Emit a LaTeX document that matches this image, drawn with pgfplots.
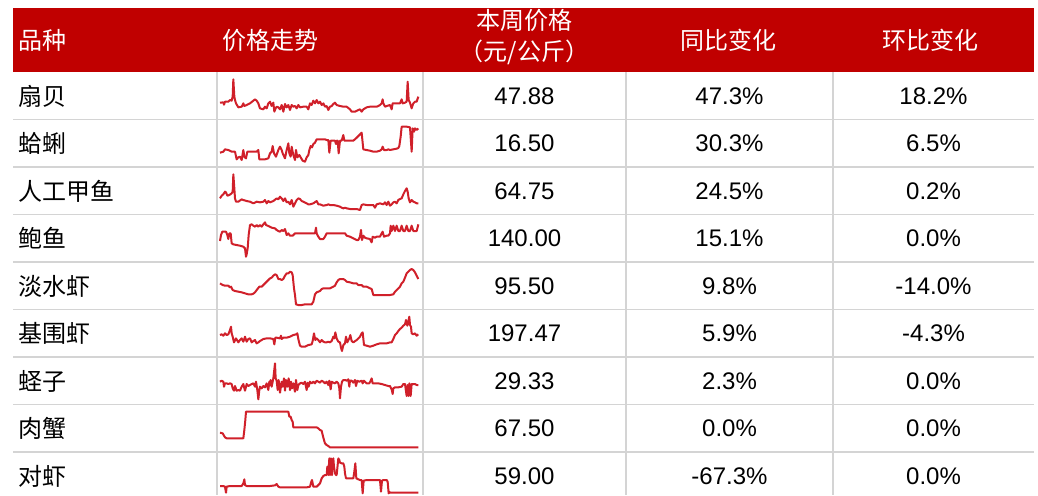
\documentclass[border=0pt]{standalone}
\usepackage{fontspec}
\setmainfont{Liberation Sans}
\newfontfamily\cjk{Noto Sans CJK SC}
\usepackage{pgfplots}
\pgfplotsset{compat=1.18}
\definecolor{hdr}{HTML}{C00000}
\definecolor{grid}{HTML}{D4D4D4}
\definecolor{spark}{HTML}{D0202A}
\pgfplotsset{sparkaxis/.style={scale only axis,hide axis,clip=false,anchor=north west,
  width=110pt,height=50pt,xmin=0,xmax=660,ymin=0,ymax=300,y dir=reverse},
  sp/.style={spark,line width=1pt,line join=round,mark=none}}
\begin{document}
\begin{tikzpicture}
\begin{scope}[x=0.5pt,y=0.5pt]
\path[use as bounding box] (0,0) rectangle (1038,-495);
% header
\fill[hdr] (13,-8) rectangle (1034,-72);
\begin{scope}[font=\cjk\fontsize{12}{14}\selectfont,text=white]
\node[anchor=west] at (11,-40) {品种};
\node[anchor=west] at (215,-40) {价格走势};
\node at (524.5,-20) {本周价格};
\node at (524.5,-52) {（元/公斤）};
\node at (728,-40) {同比变化};
\node at (930,-40) {环比变化};
\end{scope}
% grid
\foreach \y in {119.5,167,214.5,262,309.5,357,404.5,452}
  \draw[grid,line width=0.8pt] (13,-\y) -- (1034,-\y);
\foreach \x in {217,423,626,833}
  \draw[grid,line width=0.8pt] (\x,-72) -- (\x,-495);
% rows
\foreach \n/\p/\a/\b [count=\i from 0] in {扇贝/47.88/47.3\%/18.2\%,蛤蜊/16.50/30.3\%/6.5\%,人工甲鱼/64.75/24.5\%/0.2\%,
  鲍鱼/140.00/15.1\%/0.0\%,淡水虾/95.50/9.8\%/-14.0\%,基围虾/197.47/5.9\%/-4.3\%,
  蛏子/29.33/2.3\%/0.0\%,肉蟹/67.50/0.0\%/0.0\%,对虾/59.00/-67.3\%/0.0\%}{
  \pgfmathsetmacro\yc{-(96+47.5*\i)}
  \node[anchor=west,font=\cjk\fontsize{12}{14}\selectfont] at (11,\yc) {\n};
  \node[font=\fontsize{12}{14}\selectfont] at (524.5,\yc) {\p};
  \node[font=\fontsize{12}{14}\selectfont] at (729.5,\yc) {\a};
  \node[font=\fontsize{12}{14}\selectfont] at (933.5,\yc) {\b};
}
\end{scope}
% sparklines
\begin{axis}[sparkaxis,at={(105pt,-35pt)}]
\addplot[sp] coordinates {(30,98)(40,97)(42,104)(45,95)(55,95)(60,90)(65,92)(68,80)(70,28)(73,80)(75,90)(78,100)(85,112)(95,110)(100,100)(103,108)(110,105)(120,100)(130,92)(135,88)(140,92)(145,100)(150,115)(160,118)(165,110)(170,115)(175,100)(180,95)(185,108)(190,98)(193,125)(197,115)(200,110)(205,112)(210,118)(215,105)(220,125)(225,102)(230,112)(235,105)(240,120)(245,105)(250,110)(255,108)(260,115)(265,105)(270,112)(280,110)(290,110)(295,118)(300,100)(305,105)(310,92)(315,100)(320,90)(325,100)(330,95)(335,105)(340,100)(345,110)(350,108)(355,120)(360,110)(365,108)(370,102)(375,98)(380,105)(390,108)(400,110)(410,110)(420,118)(425,125)(435,125)(445,120)(450,118)(455,125)(460,118)(470,112)(480,110)(490,110)(500,110)(505,108)(510,105)(515,100)(518,88)(520,100)(525,110)(530,108)(540,105)(545,118)(548,100)(555,100)(565,100)(570,100)(575,88)(578,100)(585,98)(590,95)(593,35)(596,90)(600,98)(605,115)(610,100)(615,95)(620,95)(625,80)};
\addplot[sp] coordinates {(30,248)(40,245)(45,238)(55,240)(65,245)(75,245)(80,268)(85,262)(90,260)(95,270)(100,240)(103,260)(108,265)(112,245)(120,245)(130,245)(140,245)(145,240)(148,268)(155,268)(165,268)(175,265)(180,250)(185,245)(188,228)(192,250)(198,260)(205,240)(210,230)(215,240)(218,250)(225,265)(230,240)(235,220)(238,250)(242,260)(245,230)(250,255)(255,270)(258,240)(262,262)(268,255)(272,262)(278,272)(285,275)(290,262)(295,255)(298,240)(302,228)(306,232)(310,222)(315,218)(320,208)(330,208)(340,208)(345,208)(350,210)(355,210)(358,248)(362,212)(365,212)(370,212)(375,212)(378,222)(380,212)(383,212)(386,250)(390,212)(395,212)(400,195)(403,212)(410,212)(420,212)(430,212)(438,205)(445,198)(455,188)(460,238)(470,240)(480,242)(490,245)(500,245)(510,242)(515,238)(518,230)(522,240)(530,240)(535,238)(540,240)(550,238)(560,236)(565,234)(568,228)(572,200)(575,170)(580,170)(590,170)(600,172)(605,245)(608,175)(612,185)(615,175)(620,180)(625,175)};
\end{axis}
\begin{axis}[sparkaxis,at={(105pt,-82.5pt)}]
\addplot[sp] coordinates {(30,100)(35,92)(40,88)(45,80)(48,82)(52,92)(58,90)(65,85)(68,80)(70,28)(73,70)(75,100)(78,110)(85,110)(95,103)(100,105)(110,108)(120,110)(130,115)(140,110)(150,112)(160,110)(165,105)(170,115)(175,108)(180,112)(190,108)(200,100)(205,103)(210,95)(215,100)(220,108)(225,100)(230,112)(235,110)(240,118)(245,105)(250,125)(255,115)(260,105)(265,100)(270,102)(275,108)(280,110)(290,115)(295,118)(300,118)(310,115)(320,108)(325,118)(330,118)(340,122)(350,120)(355,118)(360,120)(370,120)(380,122)(390,125)(395,128)(400,130)(405,128)(410,130)(420,132)(430,132)(440,132)(450,135)(455,120)(460,118)(470,120)(480,120)(490,120)(495,128)(500,118)(510,115)(520,118)(525,112)(530,120)(535,110)(540,122)(545,118)(550,112)(555,110)(560,115)(565,105)(570,102)(575,100)(580,88)(585,78)(590,70)(593,80)(596,100)(600,112)(605,105)(610,110)(615,112)(620,115)(625,115)};
\addplot[sp] coordinates {(30,228)(33,210)(37,200)(42,200)(48,200)(52,210)(55,222)(58,205)(62,205)(65,235)(70,238)(80,240)(90,242)(100,245)(105,250)(108,275)(110,268)(113,250)(116,210)(120,180)(125,178)(130,182)(135,185)(140,180)(145,185)(150,180)(155,185)(160,178)(165,172)(168,180)(175,183)(185,188)(195,190)(200,195)(205,198)(210,200)(215,195)(220,198)(225,192)(230,210)(235,205)(240,212)(248,212)(255,205)(260,205)(270,205)(280,205)(290,205)(300,205)(310,205)(315,205)(318,188)(320,205)(325,215)(330,222)(340,222)(345,215)(350,205)(360,205)(370,205)(380,205)(390,205)(400,205)(405,205)(410,212)(420,215)(430,220)(440,225)(445,225)(450,215)(453,195)(456,225)(460,212)(465,218)(470,220)(480,222)(485,232)(488,215)(495,218)(500,215)(510,215)(515,205)(518,200)(522,215)(530,212)(535,212)(540,205)(542,182)(545,198)(550,182)(555,198)(560,182)(565,198)(570,198)(575,182)(580,198)(585,198)(590,182)(595,198)(600,198)(605,182)(610,198)(615,198)(620,198)(625,178)};
\end{axis}
\begin{axis}[sparkaxis,at={(105pt,-127.5pt)}]
\addplot[sp] coordinates {(30,85)(38,90)(45,92)(55,92)(60,97)(63,95)(68,105)(75,108)(85,110)(95,112)(105,115)(115,118)(125,118)(130,116)(135,112)(140,105)(148,95)(155,95)(160,90)(165,85)(170,80)(175,75)(180,70)(185,68)(190,62)(195,58)(200,60)(205,72)(210,72)(215,75)(220,72)(225,62)(230,55)(235,55)(240,50)(245,52)(248,60)(252,100)(255,120)(258,148)(265,150)(275,150)(285,148)(295,148)(305,148)(310,140)(315,118)(320,112)(325,110)(330,108)(335,102)(340,100)(350,100)(360,100)(370,95)(375,92)(380,82)(385,75)(390,72)(400,72)(405,75)(410,80)(420,82)(430,85)(440,85)(445,90)(455,90)(460,95)(470,95)(480,100)(485,102)(490,120)(500,120)(510,120)(520,120)(530,120)(540,120)(550,118)(555,110)(560,105)(565,100)(570,95)(575,85)(580,80)(585,68)(590,55)(595,50)(600,45)(605,42)(610,45)(615,52)(620,62)(625,72)};
\addplot[sp] coordinates {(30,240)(35,238)(40,242)(45,235)(50,240)(55,238)(60,225)(63,215)(65,235)(68,245)(72,262)(78,250)(85,262)(90,255)(95,250)(100,260)(105,245)(110,260)(115,252)(120,250)(125,262)(130,258)(135,255)(140,265)(145,262)(150,258)(155,255)(160,252)(170,250)(180,250)(190,252)(193,268)(196,248)(200,248)(210,250)(213,242)(215,252)(220,248)(230,248)(240,245)(250,240)(258,238)(262,235)(265,252)(270,272)(275,275)(285,275)(295,270)(305,268)(308,258)(312,235)(316,255)(320,250)(325,255)(330,262)(335,255)(340,260)(345,262)(350,262)(355,260)(360,262)(365,258)(370,245)(373,250)(376,232)(380,250)(385,260)(390,262)(393,278)(396,288)(400,270)(405,265)(408,245)(412,262)(418,250)(421,240)(425,258)(430,262)(440,255)(450,245)(455,235)(458,232)(462,270)(470,272)(480,275)(490,272)(500,268)(510,265)(520,265)(530,265)(540,262)(545,262)(550,252)(555,240)(560,235)(565,228)(570,222)(575,218)(580,212)(585,208)(588,195)(592,212)(595,200)(598,185)(600,210)(603,215)(605,235)(610,238)(615,235)(620,242)(625,238)};
\end{axis}
\begin{axis}[sparkaxis,at={(105pt,-175pt)}]
\addplot[sp] coordinates {(30,95)(35,92)(40,95)(42,110)(45,100)(50,100)(55,102)(60,100)(65,102)(68,115)(72,122)(75,108)(80,122)(85,120)(90,122)(95,110)(100,102)(105,122)(110,102)(115,108)(120,105)(125,102)(130,100)(135,110)(138,95)(142,120)(145,148)(148,120)(150,110)(155,115)(160,108)(165,112)(168,105)(170,100)(175,120)(178,95)(180,105)(182,90)(185,110)(190,85)(195,40)(197,85)(200,92)(203,120)(206,90)(210,128)(215,95)(218,110)(222,85)(225,122)(228,90)(232,110)(236,85)(240,120)(243,95)(246,115)(250,100)(255,125)(258,90)(262,120)(265,105)(270,100)(275,98)(280,102)(285,95)(290,120)(293,98)(296,110)(300,95)(305,100)(310,95)(315,100)(320,92)(325,95)(330,98)(335,92)(340,95)(345,100)(350,95)(355,105)(358,92)(362,118)(365,95)(370,98)(375,100)(380,95)(385,100)(388,115)(390,145)(393,110)(396,95)(400,90)(405,90)(410,92)(415,88)(418,110)(420,92)(425,92)(430,98)(435,90)(438,108)(442,92)(448,95)(455,92)(458,100)(462,92)(470,100)(478,100)(482,92)(485,85)(488,100)(495,100)(505,100)(515,102)(525,105)(535,108)(540,108)(545,118)(548,132)(550,115)(555,112)(565,112)(575,110)(580,102)(585,102)(590,138)(593,105)(596,138)(598,100)(602,138)(605,102)(610,102)(615,102)(620,105)(625,105)};
\addplot[sp] coordinates {(30,248)(38,250)(45,262)(50,265)(60,265)(70,265)(80,265)(90,265)(100,265)(103,240)(106,210)(108,185)(115,185)(130,185)(150,185)(170,185)(190,185)(210,185)(230,185)(235,185)(238,200)(242,200)(245,210)(248,215)(250,232)(260,232)(280,232)(300,232)(320,232)(325,235)(330,240)(335,242)(338,255)(342,270)(345,280)(350,285)(355,288)(360,292)(380,292)(450,292)(550,292)(625,292)};
\end{axis}
\begin{axis}[sparkaxis,at={(105pt,-220pt)},height=27.5pt,ymax=165]
\addplot[sp] coordinates {(30,138)(40,138)(45,140)(48,158)(50,140)(60,138)(80,138)(95,138)(100,130)(103,118)(105,135)(110,138)(150,138)(180,138)(195,136)(200,132)(205,140)(210,142)(250,142)(290,142)(300,140)(303,128)(306,120)(310,140)(320,140)(330,130)(335,115)(340,108)(345,105)(350,105)(352,80)(355,105)(358,55)(360,105)(363,55)(366,105)(368,65)(370,55)(372,80)(375,100)(378,105)(380,105)(385,55)(388,60)(390,68)(395,70)(400,70)(403,80)(405,100)(408,115)(415,115)(425,115)(430,115)(433,95)(436,70)(439,115)(445,118)(450,120)(455,120)(458,160)(461,122)(470,120)(480,120)(500,120)(510,120)(513,155)(516,122)(520,120)(525,120)(530,120)(533,125)(536,160)(538,155)(540,158)(545,158)(560,158)(600,158)(625,158)};
\end{axis}
\end{tikzpicture}
\end{document}
